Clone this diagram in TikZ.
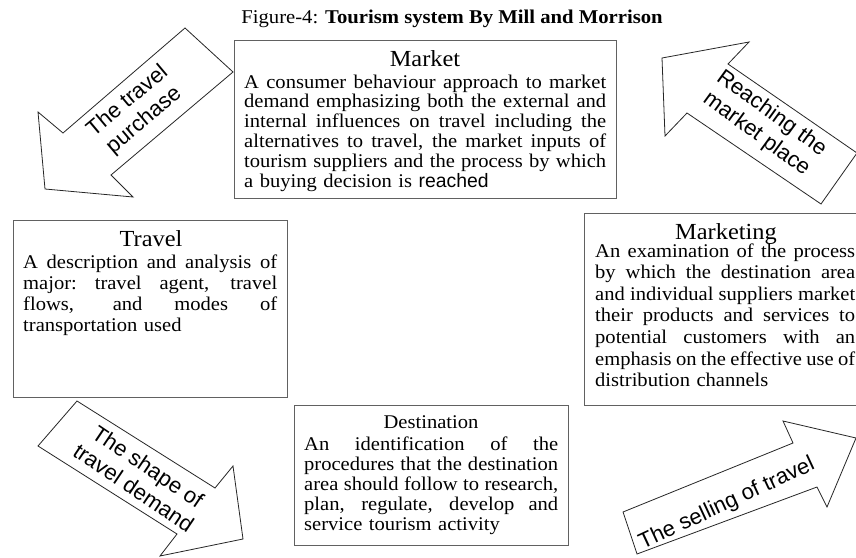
\documentclass[tikz,border=0pt]{standalone}
\usepackage{fontspec}
\setmainfont[FakeStretch=1.06]{Liberation Serif}
\setsansfont{Liberation Sans}
% one justified line, its word spaces spread to the full text width
\newcommand\fullline[1]{\leavevmode\hbox to \hsize{\spaceskip=0.25em plus 1em minus 0.08em\xspaceskip=\spaceskip #1}}
\tikzset{
  panel/.style={draw=black!62, line width=1.1pt, fill=white, inner sep=0pt, anchor=north west},
  head/.style={font=\fontsize{23}{26}\selectfont, anchor=base, inner sep=0pt},
  body/.style={anchor=base west, inner sep=0pt, align=left},
  blockarrow/.style={draw=black!85, line width=0.8pt, fill=white, line join=miter},
  arrowtext/.style={font=\sffamily\fontsize{22}{25.5}\selectfont, align=center, inner sep=0pt},
}
\begin{document}
\begin{tikzpicture}[x=1pt, y=-1pt]
  \path[use as bounding box] (0,0) rectangle (856,557);
  \clip (0,0) rectangle (856,557);
  \fill[white] (0,0) rectangle (856,557);

  % caption
  \node[anchor=base, inner sep=0pt, font=\fontsize{19.5}{22}\selectfont] (caption) at (452,23)
    {Figure-4: \textbf{Tourism system By Mill and Morrison}};

  % block arrows of the cycle
  \draw[blockarrow] (185,28) -- (233,72) -- (111,175) -- (133,197) -- (45,189) -- (38,112) -- (63,133) -- cycle;
  \draw[blockarrow] (662,58) -- (749,42) -- (728,64) -- (857,153) -- (821,204) -- (687,113) -- (665,136) -- cycle;
  \draw[blockarrow] (77,401) -- (215,488) -- (233,466) -- (243,539) -- (160,556) -- (177,534) -- (38,446) -- cycle;
  \draw[blockarrow] (637,554) -- (623,512) -- (793,443) -- (783,421) -- (856,438) -- (827,507) -- (817,487) -- cycle;

  \node[arrowtext, rotate=40] (purchase) at (136,111) {The travel\\purchase};
  \node[arrowtext, rotate=-36] (reaching) at (764,124) {Reaching the\\market place};
  \node[arrowtext, rotate=-34] (shape) at (141,477) {The shape of\\travel demand};
  \node[arrowtext, rotate=25] (selling) at (727,504) {The selling of travel};

  % Market
  \node[panel, minimum width=382pt, minimum height=158pt] (marketbox) at (234,40) {};
  \node[head] (markethead) at (425,66) {Market};
  \node[body, text width=362pt, font=\fontsize{19.4}{19.8}\selectfont] (markettext) at (244,88) {%
    \fullline{A consumer behaviour approach to market}\\
    \fullline{demand emphasizing both the external and}\\
    \fullline{internal influences on travel including the}\\
    \fullline{alternatives to travel, the market inputs of}\\
    \fullline{tourism suppliers and the process by which}\\
    a buying decision is {\sffamily reached}};

  % Travel
  \node[panel, minimum width=274pt, minimum height=177pt] (travelbox) at (13,220) {};
  \node[head] (travelhead) at (151,246) {Travel};
  \node[body, text width=254pt, font=\fontsize{19.4}{21}\selectfont] (traveltext) at (23,268) {%
    \fullline{A description and analysis of}\\
    \fullline{major: travel agent, travel}\\
    \fullline{flows, and modes of}\\
    transportation used};

  % Marketing
  \node[panel, minimum width=290pt, minimum height=192pt] (marketingbox) at (584,213) {};
  \node[head] (marketinghead) at (726,239) {Marketing};
  \node[body, text width=260pt, font=\fontsize{19.4}{21.6}\selectfont] (marketingtext) at (595,257) {%
    \fullline{An examination of the process}\\
    \fullline{by which the destination area}\\
    \fullline{and individual suppliers market}\\
    \fullline{their products and services to}\\
    \fullline{potential customers with an}\\
    \fullline{emphasis on the effective use of}\\
    distribution channels};

  % Destination
  \node[panel, minimum width=274pt, minimum height=140pt] (destinationbox) at (294,405) {};
  \node[anchor=base, inner sep=0pt, font=\fontsize{19.4}{21}\selectfont] (destinationhead) at (431,428) {Destination};
  \node[body, text width=254pt, font=\fontsize{19.4}{20}\selectfont] (destinationtext) at (304,450) {%
    \fullline{An identification of the}\\
    \fullline{procedures that the destination}\\
    \fullline{area should follow to research,}\\
    \fullline{plan, regulate, develop and}\\
    service tourism activity};
\end{tikzpicture}
\end{document}
